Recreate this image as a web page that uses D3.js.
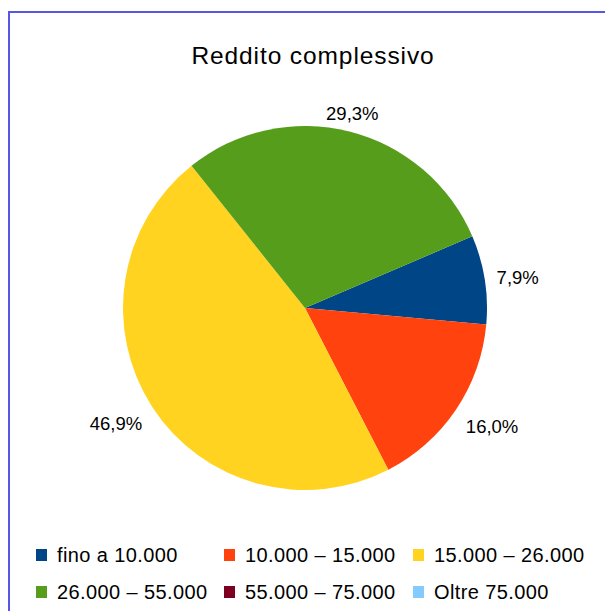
<!DOCTYPE html>
<html>
<head>
<meta charset="utf-8">
<script src="https://cdn.jsdelivr.net/npm/d3@7"></script>
<style>
  body { margin: 0; background: #fff; }
  text { font-family: "Liberation Sans", Arial, sans-serif; fill: #000; }
</style>
</head>
<body>
<script>
// Reddito complessivo - quote per fascia di reddito
var categories = ["fino a 10.000", "10.000 \u2013 15.000", "15.000 \u2013 26.000",
                  "26.000 \u2013 55.000", "55.000 \u2013 75.000", "Oltre 75.000"];
var values = [7.9, 16.0, 46.9, 29.3, 0, 0];
var colors = ["#004586", "#ff420e", "#ffd320", "#579d1c", "#7e0021", "#83caff"];

var w = 605;
var h = 611;
var cx = 305, cy = 308, r = 182;

var svg = d3.select("body")
  .append("svg")
  .attr("width", w)
  .attr("height", h);

// outer frame (only left and top edges are visible)
svg.append("rect")
  .attr("x", 9)
  .attr("y", 12)
  .attr("width", 620)
  .attr("height", 620)
  .attr("fill", "none")
  .attr("stroke", "#5656e8")
  .attr("stroke-width", 2);

svg.append("text")
  .attr("x", 313)
  .attr("y", 64)
  .attr("text-anchor", "middle")
  .attr("font-size", 24.5)
  .attr("letter-spacing", 0.9)
  .text("Reddito complessivo");

var start = 66.8 * Math.PI / 180;
var pie = d3.pie()
  .sort(null)
  .value(function(d) { return d; })
  .startAngle(start)
  .endAngle(start + 2 * Math.PI);

var arcs = pie(values);
var arc = d3.arc().innerRadius(0).outerRadius(r);

var g = svg.append("g").attr("transform", "translate(" + cx + "," + cy + ")");

g.selectAll("path")
  .data(arcs)
  .enter()
  .append("path")
  .attr("d", arc)
  .attr("fill", function(d, i) { return colors[i]; });

// percentage labels outside the pie, aligned by the side they sit on
var fmt = function(v) { return v.toFixed(1).replace(".", ",") + "%"; };
var fs = 18.5;
var lr = r + 12;
g.selectAll("text.lbl")
  .data(arcs.filter(function(d) { return d.value > 0; }))
  .enter()
  .append("text")
  .attr("class", "lbl")
  .attr("font-size", fs)
  .each(function(d) {
    var a = (d.startAngle + d.endAngle) / 2;
    var dx = Math.sin(a), dy = -Math.cos(a);
    var px = dx * lr, py = dy * lr;
    var anchor = Math.abs(dx) < 0.38 ? "middle" : (dx > 0 ? "start" : "end");
    var by;
    if (Math.abs(dy) < 0.38) by = py + 0.35 * fs;
    else if (dy < 0) by = py;
    else by = py + 0.9 * fs;
    d3.select(this)
      .attr("text-anchor", anchor)
      .attr("x", px)
      .attr("y", by);
  })
  .text(function(d) { return fmt(d.value); });

// legend
var colX = [36, 224, 413];
var rowY = [549, 586];
var legend = svg.selectAll("g.leg")
  .data(categories)
  .enter()
  .append("g")
  .attr("class", "leg")
  .attr("transform", function(d, i) {
    return "translate(" + colX[i % 3] + "," + rowY[Math.floor(i / 3)] + ")";
  });

legend.append("rect")
  .attr("width", 11)
  .attr("height", 12)
  .attr("fill", function(d, i) { return colors[i]; });

legend.append("text")
  .attr("x", 21)
  .attr("y", 12.7)
  .attr("font-size", 20)
  .attr("letter-spacing", 0.4)
  .text(function(d) { return d; });
</script>
</body>
</html>
